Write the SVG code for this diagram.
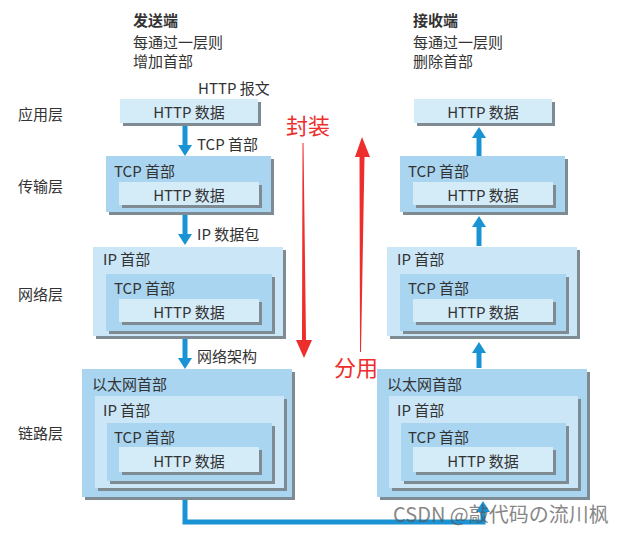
<svg xmlns="http://www.w3.org/2000/svg" width="621" height="533" viewBox="0 0 621 533">
<defs>
<style>
text{font-family:"Noto Sans CJK SC","Noto Sans",sans-serif;fill:#333;}
.t{font-size:15px;dominant-baseline:central;}
.c{text-anchor:middle;}
.h{font-weight:bold;}
.sh{fill:#7f8b93;}
.m{fill:#a9d5f0;}
.l{fill:#cbe6f6;}
.p{fill:#d4ebf8;}
.bl{stroke:#1a93d4;stroke-width:5;fill:none;}
.red{fill:#ee2d2d;}
.rt{font-size:22px;fill:#ee2d2d;dominant-baseline:central;}
</style>
<marker id="ah" markerUnits="userSpaceOnUse" viewBox="0 0 11 14" markerWidth="11" markerHeight="14" refX="0" refY="7" orient="auto">
<path d="M0,0 L11,7 L0,14 z" fill="#1a93d4"/>
</marker>
</defs>
<rect width="621" height="533" fill="#ffffff"/>

<!-- headings -->
<g id="sender-heading">
<text class="t h" x="133" y="19">发送端</text>
<text class="t" x="133" y="41">每通过一层则</text>
<text class="t" x="133" y="60">增加首部</text>
</g>
<g id="receiver-heading">
<text class="t h" x="413" y="19">接收端</text>
<text class="t" x="413" y="41">每通过一层则</text>
<text class="t" x="413" y="60">删除首部</text>
</g>
<g id="layer-labels">
<text class="t" x="18" y="113">应用层</text>
<text class="t" x="18" y="185">传输层</text>
<text class="t" x="18" y="293">网络层</text>
<text class="t" x="18" y="432">链路层</text>
</g>
<text class="t" x="198" y="87">HTTP 报文</text>

<!-- Left: application -->
<g id="L-app">
<rect class="sh" x="123" y="102" width="138" height="24"/>
<rect class="p" x="120" y="99" width="138" height="24"/>
<text class="t c" x="189" y="111">HTTP 数据</text>
</g>
<!-- Left: transport -->
<g id="L-tcp">
<rect class="sh" x="109" y="159" width="165" height="56"/>
<rect class="m" x="106" y="156" width="165" height="56"/>
<text class="t" x="114" y="170">TCP 首部</text>
<rect class="sh" x="122" y="185" width="140" height="23"/>
<rect class="p" x="119" y="182" width="140" height="23"/>
<text class="t c" x="189" y="194">HTTP 数据</text>
</g>
<!-- Left: network -->
<g id="L-ip">
<rect class="sh" x="96" y="250" width="190" height="89"/>
<rect class="l" x="93" y="247" width="190" height="89"/>
<text class="t" x="103" y="258">IP 首部</text>
<rect class="sh" x="109" y="277" width="166" height="57"/>
<rect class="m" x="106" y="274" width="166" height="57"/>
<text class="t" x="114" y="287">TCP 首部</text>
<rect class="sh" x="122" y="302" width="140" height="23"/>
<rect class="p" x="119" y="299" width="140" height="23"/>
<text class="t c" x="189" y="311">HTTP 数据</text>
</g>
<!-- Left: link -->
<g id="L-eth">
<rect class="sh" x="85" y="372" width="210" height="128"/>
<rect class="m" x="82" y="369" width="210" height="128"/>
<text class="t" x="92" y="383">以太网首部</text>
<rect class="sh" x="98" y="399" width="189" height="92"/>
<rect class="l" x="95" y="396" width="189" height="92"/>
<text class="t" x="103" y="409">IP 首部</text>
<rect class="sh" x="110" y="426" width="165" height="58"/>
<rect class="m" x="107" y="423" width="165" height="58"/>
<text class="t" x="114" y="436">TCP 首部</text>
<rect class="sh" x="122" y="450" width="140" height="25"/>
<rect class="p" x="119" y="447" width="140" height="25"/>
<text class="t c" x="189" y="460">HTTP 数据</text>
</g>

<!-- Right column (offset 294) -->
<g id="R-app">
<rect class="sh" x="417" y="102" width="138" height="24"/>
<rect class="p" x="414" y="99" width="138" height="24"/>
<text class="t c" x="483" y="111">HTTP 数据</text>
</g>
<g id="R-tcp">
<rect class="sh" x="403" y="159" width="165" height="56"/>
<rect class="m" x="400" y="156" width="165" height="56"/>
<text class="t" x="408" y="170">TCP 首部</text>
<rect class="sh" x="416" y="185" width="140" height="23"/>
<rect class="p" x="413" y="182" width="140" height="23"/>
<text class="t c" x="483" y="194">HTTP 数据</text>
</g>
<g id="R-ip">
<rect class="sh" x="390" y="250" width="190" height="89"/>
<rect class="l" x="387" y="247" width="190" height="89"/>
<text class="t" x="397" y="258">IP 首部</text>
<rect class="sh" x="403" y="277" width="166" height="57"/>
<rect class="m" x="400" y="274" width="166" height="57"/>
<text class="t" x="408" y="287">TCP 首部</text>
<rect class="sh" x="416" y="302" width="140" height="23"/>
<rect class="p" x="413" y="299" width="140" height="23"/>
<text class="t c" x="483" y="311">HTTP 数据</text>
</g>
<g id="R-eth">
<rect class="sh" x="380" y="372" width="210" height="128"/>
<rect class="m" x="377" y="369" width="210" height="128"/>
<text class="t" x="387" y="383">以太网首部</text>
<rect class="sh" x="392" y="399" width="189" height="92"/>
<rect class="l" x="389" y="396" width="189" height="92"/>
<text class="t" x="397" y="409">IP 首部</text>
<rect class="sh" x="404" y="426" width="165" height="58"/>
<rect class="m" x="401" y="423" width="165" height="58"/>
<text class="t" x="408" y="436">TCP 首部</text>
<rect class="sh" x="416" y="450" width="140" height="25"/>
<rect class="p" x="413" y="447" width="140" height="25"/>
<text class="t c" x="483" y="460">HTTP 数据</text>
</g>

<!-- connectors -->
<g id="connectors">
<line class="bl" x1="185" y1="126" x2="185" y2="145" marker-end="url(#ah)"/>
<line class="bl" x1="185" y1="215" x2="185" y2="234" marker-end="url(#ah)"/>
<line class="bl" x1="185" y1="339" x2="185" y2="358" marker-end="url(#ah)"/>
<line class="bl" x1="479" y1="156" x2="479" y2="138" marker-end="url(#ah)"/>
<line class="bl" x1="479" y1="246" x2="479" y2="227" marker-end="url(#ah)"/>
<line class="bl" x1="479" y1="368" x2="479" y2="353" marker-end="url(#ah)"/>
<polyline class="bl" points="185,500 185,522 483,522 483,512" marker-end="url(#ah)"/>
<polygon class="red" points="302.5,143 303.5,143 306,340 312,340 304,358 296,340 302,340"/>
<polygon class="red" points="362,137 370,157 364.5,157 361,352 360,352 359.5,157 355,157"/>
</g>
<g id="arrow-labels">
<text class="t" x="197" y="143">TCP 首部</text>
<text class="t" x="197" y="233">IP 数据包</text>
<text class="t" x="197" y="355">网络架构</text>
<text class="rt" x="286" y="124">封装</text>
<text class="rt" x="334" y="366">分用</text>
</g>
<text x="393" y="522" style="font-size:20px;fill:#555;opacity:0.7">CSDN @敲代码の流川枫</text>
</svg>
